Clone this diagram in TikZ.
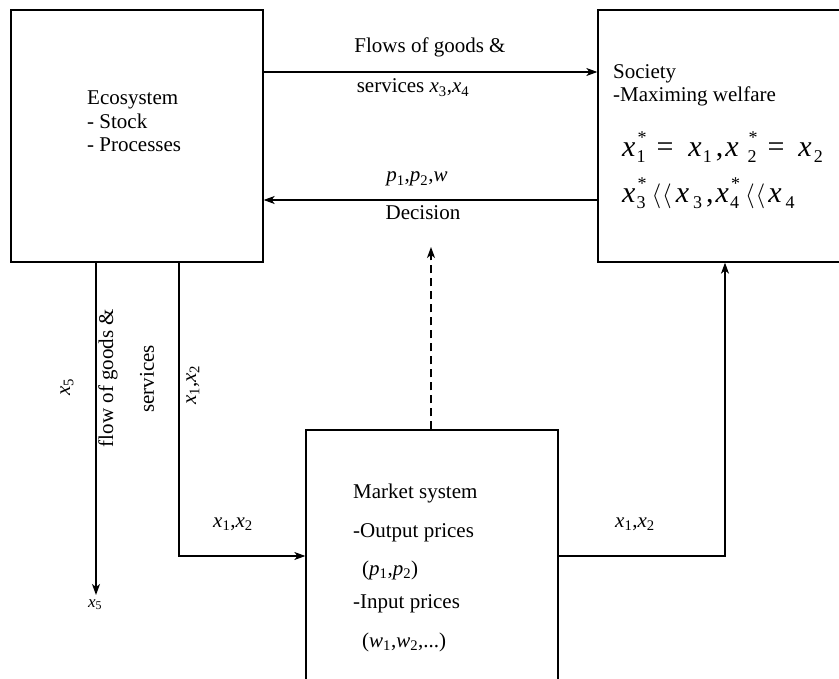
\documentclass[tikz,border=0pt]{standalone}
\usepackage{fontspec}
\setmainfont{Liberation Serif}
\usetikzlibrary{arrows.meta}
\newcommand\xs[1]{\textit{x}\textsubscript{#1}}
\newcommand\pss[1]{\textit{p}\textsubscript{#1}}
\newcommand\wss[1]{\textit{w}\textsubscript{#1}}
\newcommand\subfnt{\fontsize{18}{18}\selectfont}
\newcommand\xsb[2]{\textit{x}\kern#1\raisebox{-0.2em}{\subfnt #2}}
\newcommand\xst[2]{\textit{x}\kern#1\rlap{\raisebox{0.45em}{\subfnt\kern1pt *}}\raisebox{-0.2em}{\subfnt #2}}
\newcommand\llang{$\langle\kern1pt\langle$}
\begin{document}
\begin{tikzpicture}[x=1pt,y=-1pt,
  box/.style={draw,line width=1.3pt,minimum width=252pt,minimum height=252pt,inner sep=0pt},
  conn/.style={line width=1.2pt,-{Stealth[length=11pt,width=8pt,inset=3pt]}},
  lbl/.style={font=\fontsize{21}{23.5}\selectfont,inner sep=0pt},
  sml/.style={font=\fontsize{17}{19}\selectfont,inner sep=0pt},
  eqn/.style={font=\fontsize{30}{32}\selectfont,inner sep=0pt,anchor=base west}]
\useasboundingbox (0,0) rectangle (839,679);
\clip (0,0) rectangle (839,679);
% boxes
\node[box] (eco) at (137,136) {};
\node[box,minimum width=254pt] (soc) at (725,136) {};
\node[box] (mkt) at (432,556) {};
% free ends
\coordinate (dtip) at (431,247);
\coordinate (x5tip) at (96,595);
% connectors
\draw[conn] ([yshift=64pt]eco.east) -- ([yshift=64pt]soc.west);
\draw[conn] ([yshift=-64pt]soc.west) -- ([yshift=-64pt]eco.east);
\draw[conn,dash pattern=on 8pt off 5pt] (mkt.north -| dtip) -- (dtip);
\draw[conn] (eco.south -| x5tip) -- (x5tip);
\draw[conn] ([xshift=42pt]eco.south) |- (mkt.west);
\draw[conn] (mkt.east) -| (soc.south);
% box texts
\node[lbl,anchor=base west,align=left] (ecot) at (87,152) {Ecosystem\\- Stock\\- Processes};
\node[lbl,anchor=base west,align=left,font=\fontsize{21}{23}\selectfont] (soct) at (613,102) {Society\\-Maximing welfare};
\node[eqn] (eq1) at (622,157) {\xst{1pt}{1}\kern11pt=\kern15pt\xsb{1pt}{1}\kern4pt,\kern2pt\xst{9pt}{2}\kern11pt=\kern14pt\xsb{2pt}{2}};
\node[eqn] (eq2) at (622,203) {\xst{1pt}{3}\kern6pt\llang\kern4pt\xsb{4pt}{3}\kern4pt,\kern2pt\xst{1pt}{4}\kern6pt\llang\kern3pt\xsb{4pt}{4}};
\node[lbl,anchor=base west] (m1) at (353,498) {Market system};
\node[lbl,anchor=base west] (m2) at (353,537) {-Output prices};
\node[lbl,anchor=base west] (m3) at (362,575) {(\pss{1},\pss{2})};
\node[lbl,anchor=base west] (m4) at (353,608) {-Input prices};
\node[lbl,anchor=base west] (m5) at (362,647) {(\wss{1},\wss{2},...)};
% connector labels
\node[lbl,anchor=base] (fl1) at (430,53) {Flows of goods \&};
\node[lbl,anchor=base] (fl2) at (413,93) {services \xs{3},\xs{4}};
\node[lbl,anchor=base] (dec1) at (417,182) {\pss{1},\pss{2},\textit{w}};
\node[lbl,anchor=base] (dec2) at (423,220) {Decision};
\node[lbl,rotate=90] (x5l) at (67,387) {\xs{5}};
\node[lbl,rotate=90] (fg1) at (108,378) {flow of goods \&};
\node[lbl,rotate=90] (fg2) at (147,379) {services};
\node[lbl,rotate=90] (x12r) at (193,385) {\xs{1},\xs{2}};
\node[lbl,anchor=base] (x12a) at (233,527) {\xs{1},\xs{2}};
\node[lbl,anchor=base] (x12b) at (635,527) {\xs{1},\xs{2}};
\node[sml,anchor=base] (x5b) at (95,607) {\xs{5}};
\end{tikzpicture}
\end{document}
